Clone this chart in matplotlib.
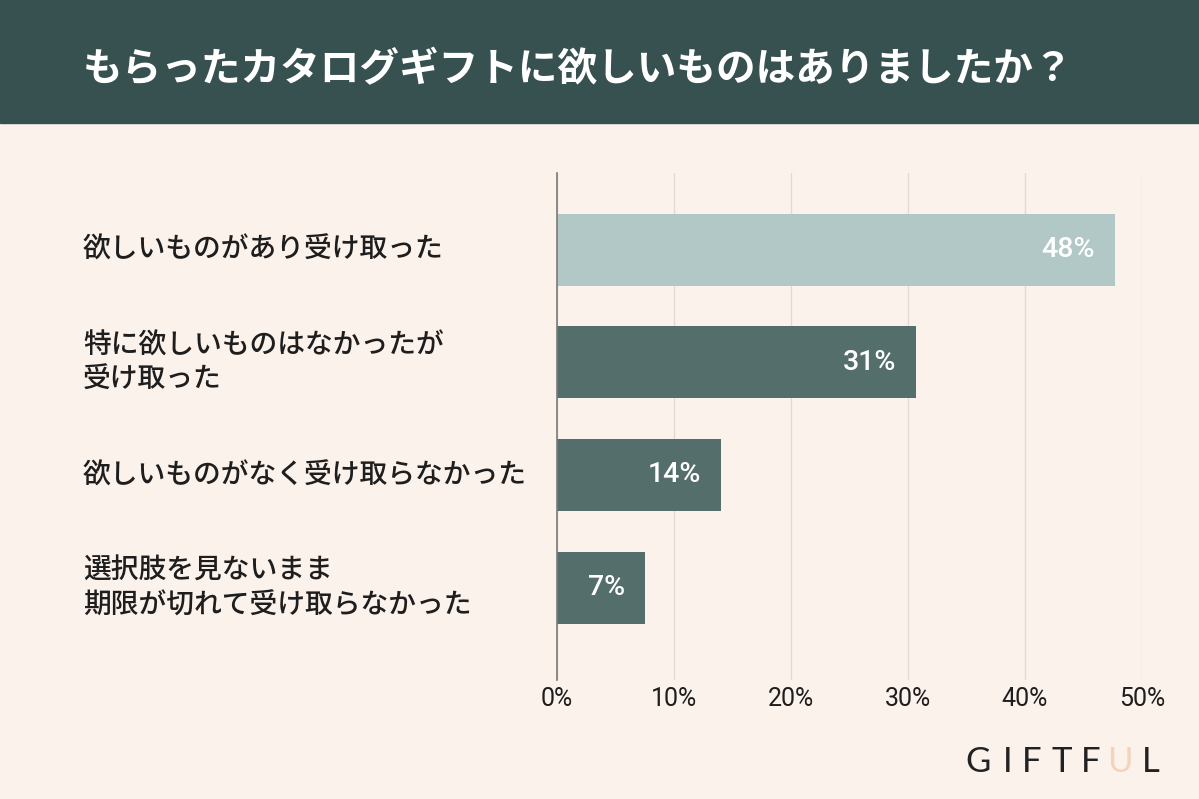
"""Catalog gift survey: horizontal bar chart."""
import matplotlib.pyplot as plt
from matplotlib.transforms import blended_transform_factory
from matplotlib.patches import Rectangle

plt.rcParams['font.family'] = ['Noto Sans CJK JP', 'DejaVu Sans']

# data
categories = [
    '欲しいものがあり受け取った',
    '特に欲しいものはなかったが\n受け取った',
    '欲しいものがなく受け取らなかった',
    '選択肢を見ないまま\n期限が切れて受け取らなかった',
]
values = [47.7, 30.7, 14.0, 7.5]
value_labels = ['48%', '31%', '14%', '7%']
xticks = [0, 10, 20, 30, 40, 50]
xtick_labels = ['0%', '10%', '20%', '30%', '40%', '50%']
title = 'もらったカタログギフトに欲しいものはありましたか？'
logo = ['G', 'I', 'F', 'T', 'F', 'U', 'L']

COLORS = {
    'bg': '#FCF2EC',
    'header': '#375150',
    'bar_light': '#B2C8C6',
    'bar_dark': '#546E6C',
    'grid': '#E3D9D3',
    'axis': '#7A7A7A',
    'text': '#1E1E1E',
    'peach': '#F4D3BA',
}

W, H = 1199, 799
fig = plt.figure(figsize=(W / 100, H / 100), dpi=100, facecolor=COLORS['bg'])

# header band
fig.patches.append(Rectangle((0, 1 - 123 / H), 1, 123 / H, transform=fig.transFigure,
                             color=COLORS['header'], zorder=0))
fig.text(83 / W, 1 - 70 / H, title, color='white', fontsize=28.5, fontweight='bold',
         ha='left', va='center')

# plot area
ax = fig.add_axes([557 / W, (H - 680) / H, (1142 - 557) / W, 507 / H])
ax.set_facecolor('none')
y = list(range(len(categories)))
colors = [COLORS['bar_light']] + [COLORS['bar_dark']] * (len(categories) - 1)
ax.barh(y, values, height=0.64, color=colors, zorder=2)
ax.set_xlim(0, 50)
ax.set_ylim(3.82, -0.68)

for s in ['top', 'right', 'bottom']:
    ax.spines[s].set_visible(False)
ax.spines['left'].set_color(COLORS['axis'])
ax.spines['left'].set_linewidth(1.2)
ax.spines['left'].set_zorder(3)

ax.set_xticks(xticks)
ax.set_xticklabels(xtick_labels, family=['Roboto', 'DejaVu Sans'],
                   fontsize=18, color=COLORS['text'])
ax.set_yticks([])
ax.tick_params(axis='x', length=0, pad=5)
ax.grid(axis='x', color=COLORS['grid'], linewidth=1, zorder=1)
ax.yaxis.grid(False)

# value labels inside bars
for yi, v, lab in zip(y, values, value_labels):
    ax.annotate(lab, (v, yi), xytext=(-20, 0), textcoords='offset pixels',
                ha='right', va='center', color='white', fontsize=20.5,
                family=['Roboto', 'DejaVu Sans'], fontweight='medium', zorder=4)

# category labels
trans = blended_transform_factory(fig.transFigure, ax.transData)
for yi, cat in zip(y, categories):
    ax.text(83 / W, yi, cat, transform=trans, ha='left', va='center',
            fontsize=20, fontweight='medium', color=COLORS['text'],
            linespacing=1.25, clip_on=False)

# logo
logo_x = [978, 1008, 1032, 1062, 1091, 1120, 1151]
for ch, lx in zip(logo, logo_x):
    fig.text(lx / W, 1 - 762 / H, ch, ha='center', va='center', fontsize=25,
             family=['Lato', 'DejaVu Sans'], fontweight='normal',
             color=COLORS['peach'] if ch == 'U' else '#222222')

fig.savefig('out.png', dpi=100, facecolor=COLORS['bg'])
